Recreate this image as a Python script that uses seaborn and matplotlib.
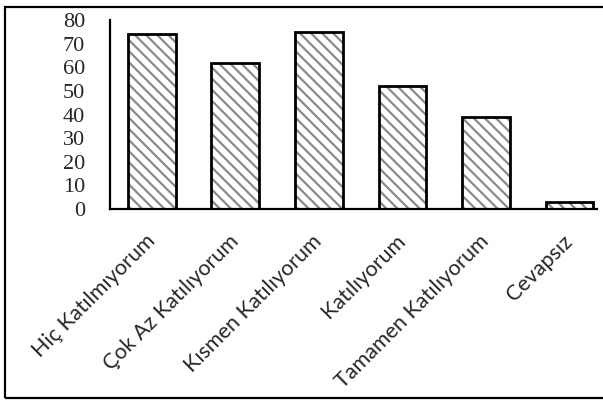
import matplotlib
matplotlib.use("Agg")
import matplotlib.pyplot as plt
from matplotlib.patches import Rectangle
import pandas as pd
import seaborn as sns

categories = [
    "Hiç Katılmıyorum",
    "Çok Az Katılıyorum",
    "Kısmen Katılıyorum",
    "Katılıyorum",
    "Tamamen Katılıyorum",
    "Cevapsız",
]
values = [74, 62, 75, 52, 39, 3]
y_ticks = [0, 10, 20, 30, 40, 50, 60, 70, 80]

df = pd.DataFrame({"cat": categories, "val": values})

sns.set_style("white")
plt.rcParams["hatch.linewidth"] = 1.6

W, H = 603, 403
fig = plt.figure(figsize=(W / 100, H / 100), dpi=100)
ax = fig.add_axes([110 / W, 1 - 209 / H, (597 - 110) / W, (209 - 20) / H])

# hatched fill in grey, then black outline on top
sns.barplot(data=df, x="cat", y="val", order=categories, color="white",
            edgecolor="#8a8a8a", linewidth=0, width=0.57, hatch="\\\\\\",
            ax=ax)
sns.barplot(data=df, x="cat", y="val", order=categories, fill=False,
            edgecolor="black", linewidth=2, width=0.57, ax=ax)

ax.set_xlim(-0.5, 5.33)
ax.set_ylim(0, 80)
ax.set_yticks(y_ticks)
ax.set_xlabel("")
ax.set_ylabel("")
for s in ["top", "right"]:
    ax.spines[s].set_visible(False)
for s in ["left", "bottom"]:
    ax.spines[s].set_linewidth(1.6)
    ax.spines[s].set_color("black")

ax.tick_params(axis="y", length=0, pad=18)
ax.tick_params(axis="x", length=0, pad=21)
for lbl in ax.get_yticklabels():
    lbl.set_fontfamily("Liberation Serif")
    lbl.set_fontsize(16)
for lbl in ax.get_xticklabels():
    lbl.set_fontfamily("Lato")
    lbl.set_fontsize(15.5)
    lbl.set_rotation(45)
    lbl.set_ha("right")
    lbl.set_va("center")
    lbl.set_rotation_mode("anchor")

# outer frame around the chart
fig.patches.append(Rectangle((5 / W, 1 - 398 / H), 1.0, (398 - 7) / H,
                             transform=fig.transFigure, fill=False,
                             edgecolor="black", linewidth=1.6))

fig.savefig("out.png", dpi=100)
